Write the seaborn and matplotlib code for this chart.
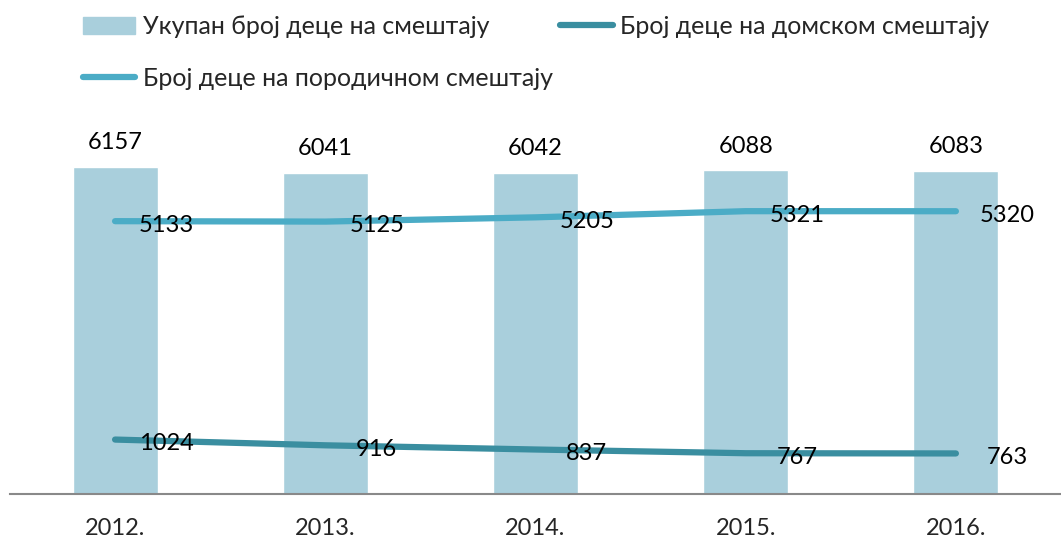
import matplotlib
matplotlib.use("Agg")
from matplotlib import pyplot as plt
from matplotlib.patches import Patch
from matplotlib.lines import Line2D
import seaborn as sns
import pandas as pd

years = ["2012.", "2013.", "2014.", "2015.", "2016."]
total = [6157, 6041, 6042, 6088, 6083]
residential = [1024, 916, 837, 767, 763]
foster = [5133, 5125, 5205, 5321, 5320]

lbl_total = "Укупан број деце на смештају"
lbl_res = "Број деце на домском смештају"
lbl_fost = "Број деце на породичном смештају"

c_bar = "#a9cfdc"
c_res = "#3a8ea0"
c_fost = "#4bacc6"

df = pd.DataFrame({"year": years, "total": total, "res": residential, "fost": foster})

sns.set_style("white")
plt.rcParams["font.family"] = ["Lato", "DejaVu Sans"]
fs = 17

fig = plt.figure(figsize=(10.61, 5.40), dpi=100)
ax = fig.add_axes([0.0094, 0.0852, 0.9906, 0.689])

sns.barplot(data=df, x="year", y="total", color=c_bar, width=0.405, ax=ax,
            saturation=1)
sns.lineplot(data=df, x="year", y="fost", color=c_fost, lw=4.5, ax=ax,
             solid_capstyle="round")
sns.lineplot(data=df, x="year", y="res", color=c_res, lw=4.5, ax=ax,
             solid_capstyle="round")

for i, v in enumerate(total):
    ax.annotate(str(v), (i, v), xytext=(0, 10), textcoords="offset points",
                ha="center", va="bottom", fontsize=fs, color="black")
for series in (foster, residential):
    for i, v in enumerate(series):
        ax.annotate(str(v), (i, v), xytext=(37, -3), textcoords="offset points",
                    ha="center", va="center", fontsize=fs, color="black")

ax.set_xlim(-0.5, 4.5)
ax.set_ylim(0, 7000)
ax.set_xlabel("")
ax.set_ylabel("")
ax.set_yticks([])
for s in ["top", "right", "left"]:
    ax.spines[s].set_visible(False)
ax.spines["bottom"].set_color("#898989")
ax.spines["bottom"].set_linewidth(1.5)
ax.tick_params(axis="x", length=0, labelsize=fs, pad=17)

handles = [Patch(color=c_bar),
           Line2D([], [], color=c_fost, lw=4.5, solid_capstyle="round"),
           Line2D([], [], color=c_res, lw=4.5, solid_capstyle="round")]
labels = [lbl_total, lbl_fost, lbl_res]
fig.legend(handles, labels, ncol=2, loc="upper left", bbox_to_anchor=(0.064, 1.0),
           frameon=False, fontsize=18, handlelength=2.1, handletextpad=0.3,
           columnspacing=0.3, labelspacing=1.15, borderaxespad=0.2)

fig.savefig("out.png", dpi=100)
